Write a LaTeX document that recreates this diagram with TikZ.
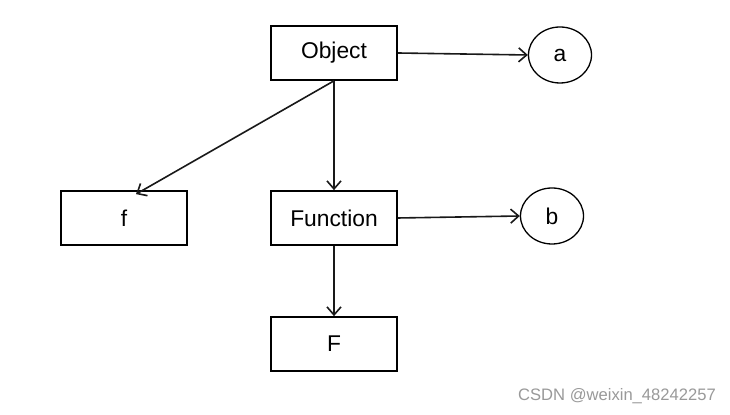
\documentclass[tikz,border=0pt]{standalone}
\usepackage{fontspec}
\setmainfont{Liberation Sans}
\usetikzlibrary{shapes.geometric,calc,arrows.meta}
\begin{document}
\begin{tikzpicture}[x=0.5pt,y=-0.5pt,
  box/.style={draw,line width=0.85pt,minimum width=63pt,minimum height=27pt,inner sep=0pt,font=\fontsize{11.4}{13}\selectfont},
  oval/.style={draw,ellipse,line width=0.65pt,minimum width=31.5pt,minimum height=28pt,inner sep=0pt,font=\fontsize{11.4}{13}\selectfont},
  link/.style={line width=0.8pt,color=black!90,-{Straight Barb[length=4pt,width=7pt,line width=0.8pt]}}]
\useasboundingbox[fill=white] (0,0) rectangle (730,415);
\node[box] (o) at (334,53) {Object};
\node[oval] (a) at (560,55) {a};
\node[box] (f) at (124,218) {f};
\node[box] (fn) at (334,218) {Function};
\node[oval] (b) at (552,216) {b};
\node[box] (F) at (334,344) {F};
\coordinate (ft) at ($(f.north)+(12,4)$);
\draw[link] (o.east) -- (a.west);
\draw[link] (o.south) -- (fn.north);
\draw[link] (o.south) -- (ft);
\draw[link] (fn.east) -- (b.west);
\draw[link] (fn.south) -- (F.north);
\node[text=black!40,font=\fontsize{8.3}{10}\selectfont,anchor=center] (wm) at (617,396) {CSDN @weixin\_48242257};
\end{tikzpicture}
\end{document}
